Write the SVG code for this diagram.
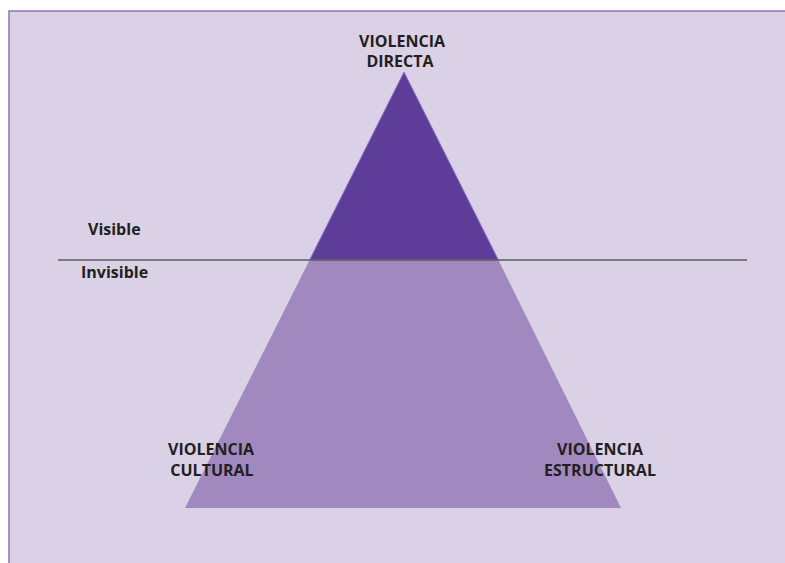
<svg xmlns="http://www.w3.org/2000/svg" width="785" height="563" viewBox="0 0 785 563">
<style>
.t{font-family:"Open Sans","Liberation Sans",sans-serif;font-weight:bold;fill:#231f20;font-size:16px}
.c{text-anchor:middle}
</style>
<rect x="0" y="0" width="785" height="563" fill="#ffffff"/>
<rect x="9" y="11" width="790" height="570" fill="#dad1e6" stroke="#8a75b6" stroke-width="1.5"/>
<g id="pyramid">
<polygon id="invisible-part" points="309.6,260 498.4,260 621,508 185,508" fill="#a189c0"/>
<polygon id="visible-part" points="404,72 498.4,260 309.6,260" fill="#5e3c99" stroke="#8f74bf" stroke-width="1" stroke-linejoin="round"/>
</g>
<g id="connectors">
<line x1="58" y1="260" x2="747" y2="260" stroke="#5c5a60" stroke-width="1.5"/>
</g>
<g id="directa"><text class="t c" x="402" y="47">VIOLENCIA</text><text class="t c" x="400" y="67">DIRECTA</text></g>
<g id="visible"><text class="t" x="88" y="235">Visible</text></g>
<g id="invisible"><text class="t" x="81" y="278">Invisible</text></g>
<g id="cultural"><text class="t c" x="211" y="455">VIOLENCIA</text><text class="t c" x="212" y="476">CULTURAL</text></g>
<g id="estructural"><text class="t c" x="600" y="455">VIOLENCIA</text><text class="t c" x="600" y="476">ESTRUCTURAL</text></g>
</svg>
